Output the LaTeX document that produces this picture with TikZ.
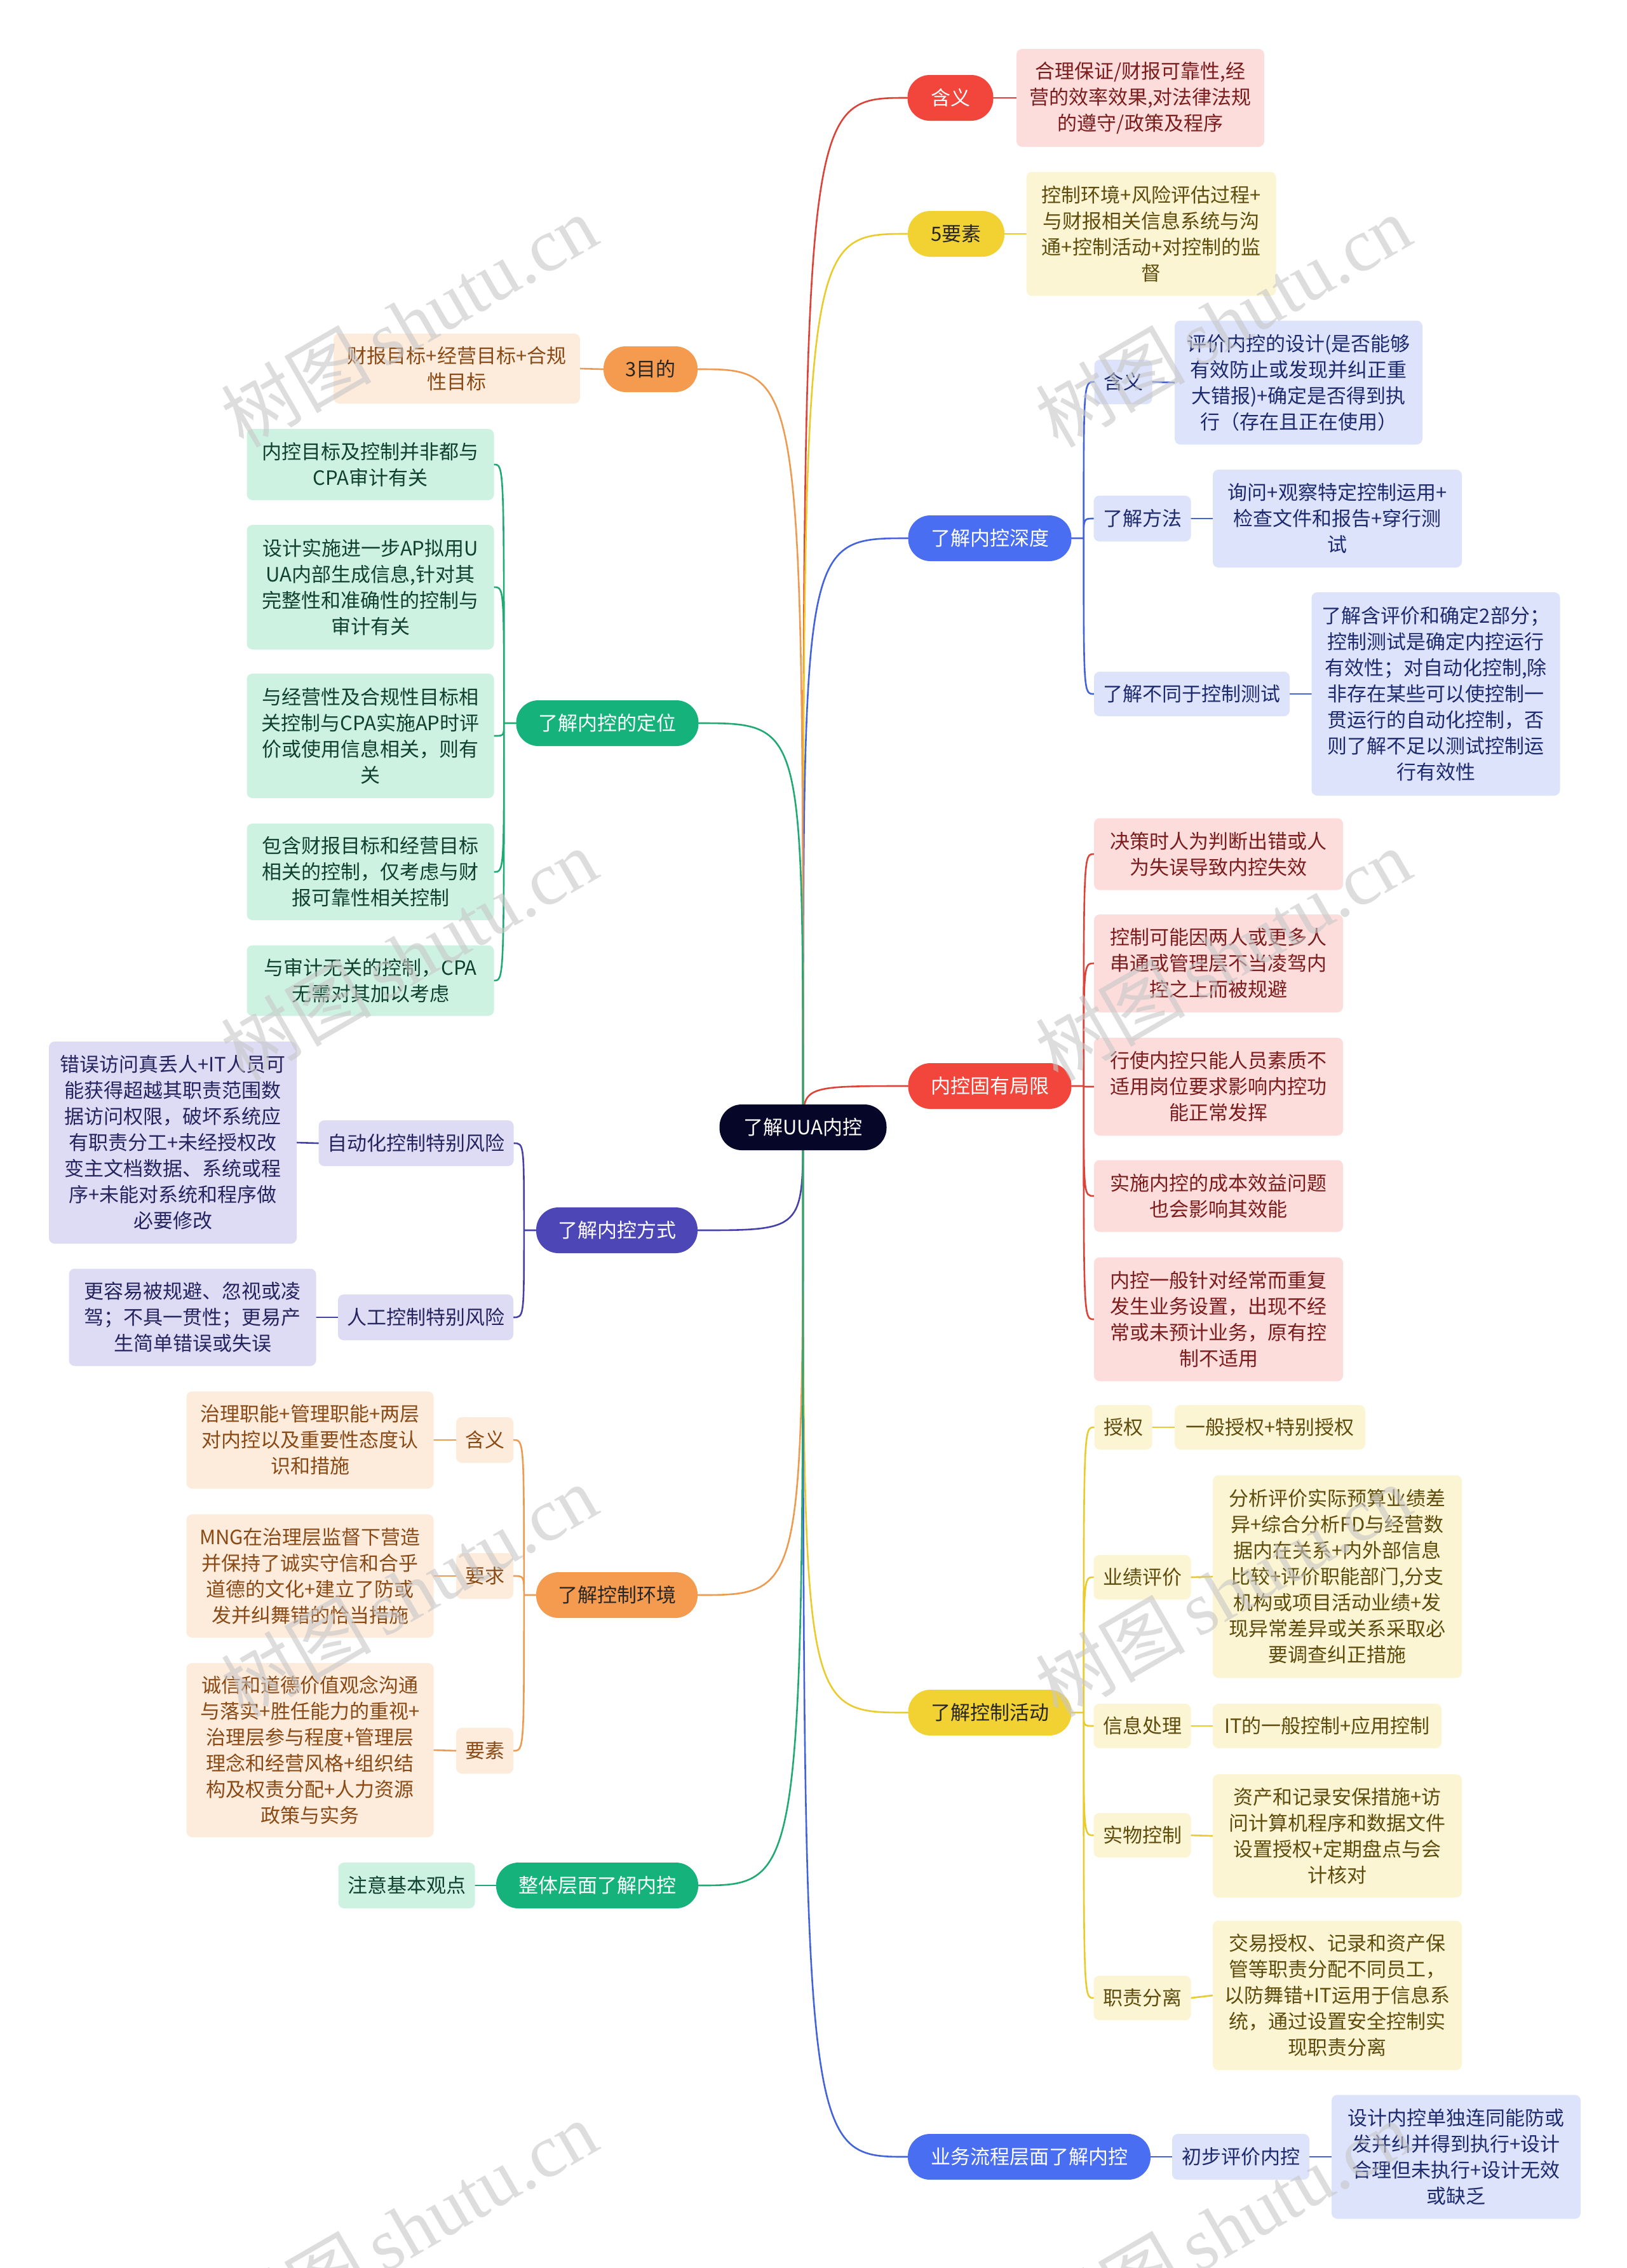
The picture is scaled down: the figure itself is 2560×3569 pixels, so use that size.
\documentclass[tikz,border=0pt]{standalone}
\usepackage{fontspec}
\setmainfont{Noto Sans CJK SC}
\newfontfamily\wmlatin{Liberation Serif}
\usetikzlibrary{calc}
\pgfdeclarelayer{bglayer}
\pgfdeclarelayer{linelayer}
\pgfsetlayers{bglayer,linelayer,main}
\definecolor{rootc}{HTML}{050628}
\definecolor{redP}{HTML}{F2463C}\definecolor{redL}{HTML}{DD4239}\definecolor{redB}{HTML}{FDDCDC}\definecolor{redT}{HTML}{7B1D1D}
\definecolor{yelP}{HTML}{F2D232}\definecolor{yelL}{HTML}{EACB2C}\definecolor{yelB}{HTML}{FCF5D3}\definecolor{yelT}{HTML}{5E4C0C}
\definecolor{bluP}{HTML}{4A6EF2}\definecolor{bluL}{HTML}{4363DD}\definecolor{bluB}{HTML}{DCE3FB}\definecolor{bluT}{HTML}{1E2A6E}
\definecolor{orgP}{HTML}{F49B4F}\definecolor{orgL}{HTML}{EE9A50}\definecolor{orgB}{HTML}{FDEBDC}\definecolor{orgT}{HTML}{8A4A16}
\definecolor{grnP}{HTML}{16B27C}\definecolor{grnL}{HTML}{1FAA73}\definecolor{grnB}{HTML}{CEF2E2}\definecolor{grnT}{HTML}{10402E}
\definecolor{indP}{HTML}{4C46B6}\definecolor{indL}{HTML}{4742AA}\definecolor{indB}{HTML}{DDDCF4}\definecolor{indT}{HTML}{26245E}
\tikzset{
  txt/.style={font=\fontsize{31}{41}\selectfont, align=center, inner sep=0pt},
  pill/.style={txt, rounded corners=35pt, minimum height=72pt},
  pbox/.style={txt, rounded corners=9pt},
  conn/.style={line width=2.6pt, line cap=round},
  redpill/.style={pill, fill=redP, text=white},
  yelpill/.style={pill, fill=yelP, text=black!85},
  blupill/.style={pill, fill=bluP, text=white},
  orgpill/.style={pill, fill=orgP, text=black!85},
  grnpill/.style={pill, fill=grnP, text=white},
  indpill/.style={pill, fill=indP, text=white},
  redbox/.style={pbox, fill=redB, text=redT},
  yelbox/.style={pbox, fill=yelB, text=yelT},
  blubox/.style={pbox, fill=bluB, text=bluT},
  orgbox/.style={pbox, fill=orgB, text=orgT},
  grnbox/.style={pbox, fill=grnB, text=grnT},
  indbox/.style={pbox, fill=indB, text=indT},
  wm/.style={rotate=30, text=black!22, opacity=0.6, inner sep=0pt},
}
\begin{document}
\begin{tikzpicture}[x=1pt,y=-1pt]
\useasboundingbox (0,0) rectangle (2560,3569);
\begin{pgfonlayer}{bglayer}
\fill[white] (0,0) rectangle (2560,3569);
\end{pgfonlayer}

% root
\node[pill, fill=rootc, text=white, minimum width=263pt] (root) at (1264,1774) {了解UUA内控};

% ---------- right side ----------
\node[redpill, minimum width=135pt] (hy) at (1496,154) {含义};
\node[redbox, minimum width=390pt, minimum height=154pt] (hyL) at (1795,154) {合理保证/财报可靠性,经\\营的效率效果,对法律法规\\的遵守/政策及程序};

\node[yelpill, minimum width=152pt] (ys) at (1505,368) {5要素};
\node[yelbox, minimum width=393pt, minimum height=195pt] (ysL) at (1812,368) {控制环境+风险评估过程+\\与财报相关信息系统与沟\\通+控制活动+对控制的监\\督};

\node[blupill, minimum width=257pt] (sd) at (1558,847) {了解内控深度};
\node[blubox, minimum width=91pt, minimum height=70pt] (sd1) at (1768,601) {含义};
\node[blubox, minimum width=390pt, minimum height=195pt] (sd1L) at (2044,602) {评价内控的设计(是否能够\\有效防止或发现并纠正重\\大错报)+确定是否得到执\\行（存在且正在使用）};
\node[blubox, minimum width=153pt, minimum height=72pt] (sd2) at (1798,816) {了解方法};
\node[blubox, minimum width=392pt, minimum height=154pt] (sd2L) at (2105,816) {询问+观察特定控制运用+\\检查文件和报告+穿行测\\试};
\node[blubox, minimum width=308pt, minimum height=70pt] (sd3) at (1876,1092) {了解不同于控制测试};
\node[blubox, minimum width=391pt, minimum height=320pt] (sd3L) at (2260,1092) {了解含评价和确定2部分；\\控制测试是确定内控运行\\有效性；对自动化控制,除\\非存在某些可以使控制一\\贯运行的自动化控制，否\\则了解不足以测试控制运\\行有效性};

\node[redpill, minimum width=257pt] (jx) at (1558,1709) {内控固有局限};
\node[redbox, minimum width=392pt, minimum height=113pt] (jx1) at (1918,1344) {决策时人为判断出错或人\\为失误导致内控失效};
\node[redbox, minimum width=392pt, minimum height=154pt] (jx2) at (1918,1516) {控制可能因两人或更多人\\串通或管理层不当凌驾内\\控之上而被规避};
\node[redbox, minimum width=392pt, minimum height=154pt] (jx3) at (1918,1710) {行使内控只能人员素质不\\适用岗位要求影响内控功\\能正常发挥};
\node[redbox, minimum width=392pt, minimum height=113pt] (jx4) at (1918,1882) {实施内控的成本效益问题\\也会影响其效能};
\node[redbox, minimum width=392pt, minimum height=195pt] (jx5) at (1918,2076) {内控一般针对经常而重复\\发生业务设置，出现不经\\常或未预计业务，原有控\\制不适用};

\node[yelpill, minimum width=257pt] (hd) at (1558,2695) {了解控制活动};
\node[yelbox, minimum width=91pt, minimum height=70pt] (hd1) at (1768,2246) {授权};
\node[yelbox, minimum width=300pt, minimum height=70pt] (hd1L) at (1999,2246) {一般授权+特别授权};
\node[yelbox, minimum width=153pt, minimum height=70pt] (hd2) at (1798,2482) {业绩评价};
\node[yelbox, minimum width=392pt, minimum height=319pt] (hd2L) at (2105,2481) {分析评价实际预算业绩差\\异+综合分析FD与经营数\\据内在关系+内外部信息\\比较+评价职能部门,分支\\机构或项目活动业绩+发\\现异常差异或关系采取必\\要调查纠正措施};
\node[yelbox, minimum width=153pt, minimum height=70pt] (hd3) at (1798,2716) {信息处理};
\node[yelbox, minimum width=360pt, minimum height=70pt] (hd3L) at (2089,2716) {IT的一般控制+应用控制};
\node[yelbox, minimum width=153pt, minimum height=70pt] (hd4) at (1798,2888) {实物控制};
\node[yelbox, minimum width=392pt, minimum height=194pt] (hd4L) at (2105,2889) {资产和记录安保措施+访\\问计算机程序和数据文件\\设置授权+定期盘点与会\\计核对};
\node[yelbox, minimum width=153pt, minimum height=70pt] (hd5) at (1798,3144) {职责分离};
\node[yelbox, minimum width=392pt, minimum height=235pt] (hd5L) at (2105,3140) {交易授权、记录和资产保\\管等职责分配不同员工，\\以防舞错+IT运用于信息系\\统，通过设置安全控制实\\现职责分离};

\node[blupill, minimum width=382pt] (lc) at (1620,3394) {业务流程层面了解内控};
\node[blubox, minimum width=216pt, minimum height=72pt] (lc1) at (1953,3394) {初步评价内控};
\node[blubox, minimum width=392pt, minimum height=195pt] (lc1L) at (2292,3394) {设计内控单独连同能防或\\发并纠并得到执行+设计\\合理但未执行+设计无效\\或缺乏};

% ---------- left side ----------
\node[orgpill, minimum width=148pt] (md) at (1024,581) {3目的};
\node[orgbox, minimum width=388pt, minimum height=110pt] (mdL) at (719,580) {财报目标+经营目标+合规\\性目标};

\node[grnpill, minimum width=287pt] (dw) at (956,1138) {了解内控的定位};
\node[grnbox, minimum width=389pt, minimum height=112pt] (dw1) at (583,731) {内控目标及控制并非都与\\CPA审计有关};
\node[grnbox, minimum width=389pt, minimum height=196pt] (dw2) at (583,924) {设计实施进一步AP拟用U\\UA内部生成信息,针对其\\完整性和准确性的控制与\\审计有关};
\node[grnbox, minimum width=389pt, minimum height=196pt] (dw3) at (583,1158) {与经营性及合规性目标相\\关控制与CPA实施AP时评\\价或使用信息相关，则有\\关};
\node[grnbox, minimum width=389pt, minimum height=152pt] (dw4) at (583,1372) {包含财报目标和经营目标\\相关的控制，仅考虑与财\\报可靠性相关控制};
\node[grnbox, minimum width=389pt, minimum height=111pt] (dw5) at (583,1543) {与审计无关的控制，CPA\\无需对其加以考虑};

\node[indpill, minimum width=254pt] (fs) at (971,1936) {了解内控方式};
\node[indbox, minimum width=307pt, minimum height=72pt] (fs1) at (655,1799) {自动化控制特别风险};
\node[indbox, minimum width=390pt, minimum height=318pt] (fs1L) at (272,1798) {错误访问真丢人+IT人员可\\能获得超越其职责范围数\\据访问权限，破坏系统应\\有职责分工+未经授权改\\变主文档数据、系统或程\\序+未能对系统和程序做\\必要修改};
\node[indbox, minimum width=276pt, minimum height=72pt] (fs2) at (670,2073) {人工控制特别风险};
\node[indbox, minimum width=389pt, minimum height=153pt] (fs2L) at (303,2073) {更容易被规避、忽视或凌\\驾；不具一贯性；更易产\\生简单错误或失误};

\node[orgpill, minimum width=254pt] (hj) at (971,2510) {了解控制环境};
\node[orgbox, minimum width=90pt, minimum height=72pt] (hj1) at (763,2266) {含义};
\node[orgbox, minimum width=389pt, minimum height=153pt] (hj1L) at (488,2266) {治理职能+管理职能+两层\\对内控以及重要性态度认\\识和措施};
\node[orgbox, minimum width=90pt, minimum height=72pt] (hj2) at (763,2480) {要求};
\node[orgbox, minimum width=389pt, minimum height=194pt] (hj2L) at (488,2480) {MNG在治理层监督下营造\\并保持了诚实守信和合乎\\道德的文化+建立了防或\\发并纠舞错的恰当措施};
\node[orgbox, minimum width=90pt, minimum height=72pt] (hj3) at (763,2755) {要素};
\node[orgbox, minimum width=389pt, minimum height=274pt] (hj3L) at (488,2754) {诚信和道德价值观念沟通\\与落实+胜任能力的重视+\\治理层参与程度+管理层\\理念和经营风格+组织结\\构及权责分配+人力资源\\政策与实务};

\node[grnpill, minimum width=318pt] (zt) at (940,2967) {整体层面了解内控};
\node[grnbox, minimum width=215pt, minimum height=72pt] (zt1) at (640,2967) {注意基本观点};

% ---------- connectors ----------
\begin{pgfonlayer}{linelayer}
\coordinate (rc) at (root.center);
% level 1
\draw[conn, redL] (rc) .. controls (rc |- hy.west) .. (hy.west);
\draw[conn, yelL] (rc) .. controls (rc |- ys.west) .. (ys.west);
\draw[conn, bluL] (rc) .. controls (rc |- sd.west) .. (sd.west);
\draw[conn, redL] (rc) .. controls (rc |- jx.west) .. (jx.west);
\draw[conn, yelL] (rc) .. controls (rc |- hd.west) .. (hd.west);
\draw[conn, bluL] (rc) .. controls (rc |- lc.west) .. (lc.west);
\draw[conn, orgL] (rc) .. controls (rc |- md.east) .. (md.east);
\draw[conn, grnL] (rc) .. controls (rc |- dw.east) .. (dw.east);
\draw[conn, indL] (rc) .. controls (rc |- fs.east) .. (fs.east);
\draw[conn, orgL] (rc) .. controls (rc |- hj.east) .. (hj.east);
\draw[conn, grnL] (rc) .. controls (rc |- zt.east) .. (zt.east);
% straight single children
\draw[conn, redL] (hy.east) -- (hyL.west);
\draw[conn, yelL] (ys.east) -- (ysL.west);
\draw[conn, bluL] (lc.east) -- (lc1.west);
\draw[conn, bluL] (lc1.east) -- (lc1L.west);
\draw[conn, orgL] (md.west) -- (mdL.east);
\draw[conn, grnL] (zt.west) -- (zt1.east);
% elbow groups right
\coordinate (sdv) at ([xshift=19pt]sd.east);
\draw[conn, bluL] (sd.east) -- (sdv)
  (sdv) .. controls (sdv |- sd1.west) .. (sd1.west)
  (sdv) .. controls (sdv |- sd2.west) .. (sd2.west)
  (sdv) .. controls (sdv |- sd3.west) .. (sd3.west);
\draw[conn, bluL] (sd1.east) -- (sd1L.west);
\draw[conn, bluL] (sd2.east) -- (sd2L.west);
\draw[conn, bluL] (sd3.east) -- (sd3L.west);
\coordinate (jxv) at ([xshift=19pt]jx.east);
\draw[conn, redL] (jx.east) -- (jxv)
  (jxv) .. controls (jxv |- jx1.west) .. (jx1.west)
  (jxv) .. controls (jxv |- jx2.west) .. (jx2.west)
  (jxv) .. controls (jxv |- jx3.west) .. (jx3.west)
  (jxv) .. controls (jxv |- jx4.west) .. (jx4.west)
  (jxv) .. controls (jxv |- jx5.west) .. (jx5.west);
\coordinate (hdv) at ([xshift=19pt]hd.east);
\draw[conn, yelL] (hd.east) -- (hdv)
  (hdv) .. controls (hdv |- hd1.west) .. (hd1.west)
  (hdv) .. controls (hdv |- hd2.west) .. (hd2.west)
  (hdv) .. controls (hdv |- hd3.west) .. (hd3.west)
  (hdv) .. controls (hdv |- hd4.west) .. (hd4.west)
  (hdv) .. controls (hdv |- hd5.west) .. (hd5.west);
\draw[conn, yelL] (hd1.east) -- (hd1L.west);
\draw[conn, yelL] (hd2.east) -- (hd2L.west);
\draw[conn, yelL] (hd3.east) -- (hd3L.west);
\draw[conn, yelL] (hd4.east) -- (hd4L.west);
\draw[conn, yelL] (hd5.east) -- (hd5L.west);
% elbow groups left
\coordinate (dwv) at ([xshift=-19pt]dw.west);
\draw[conn, grnL] (dw.west) -- (dwv)
  (dwv) .. controls (dwv |- dw1.east) .. (dw1.east)
  (dwv) .. controls (dwv |- dw2.east) .. (dw2.east)
  (dwv) .. controls (dwv |- dw3.east) .. (dw3.east)
  (dwv) .. controls (dwv |- dw4.east) .. (dw4.east)
  (dwv) .. controls (dwv |- dw5.east) .. (dw5.east);
\coordinate (fsv) at ([xshift=-19pt]fs.west);
\draw[conn, indL] (fs.west) -- (fsv)
  (fsv) .. controls (fsv |- fs1.east) .. (fs1.east)
  (fsv) .. controls (fsv |- fs2.east) .. (fs2.east);
\draw[conn, indL] (fs1.west) -- (fs1L.east);
\draw[conn, indL] (fs2.west) -- (fs2L.east);
\coordinate (hjv) at ([xshift=-19pt]hj.west);
\draw[conn, orgL] (hj.west) -- (hjv)
  (hjv) .. controls (hjv |- hj1.east) .. (hj1.east)
  (hjv) .. controls (hjv |- hj2.east) .. (hj2.east)
  (hjv) .. controls (hjv |- hj3.east) .. (hj3.east);
\draw[conn, orgL] (hj1.west) -- (hj1L.east);
\draw[conn, orgL] (hj2.west) -- (hj2L.east);
\draw[conn, orgL] (hj3.west) -- (hj3L.east);
\end{pgfonlayer}

% ---------- watermarks ----------
\foreach \wx/\wy [count=\i] in {644/505, 1925/505, 644/1502, 1925/1502, 644/2503, 1925/2503, 644/3504, 1925/3504}{
  \node[wm] (wm\i) at (\wx,\wy) {\fontsize{118}{118}\selectfont 树图\,{\wmlatin shutu.cn}};
}
\end{tikzpicture}
\end{document}
